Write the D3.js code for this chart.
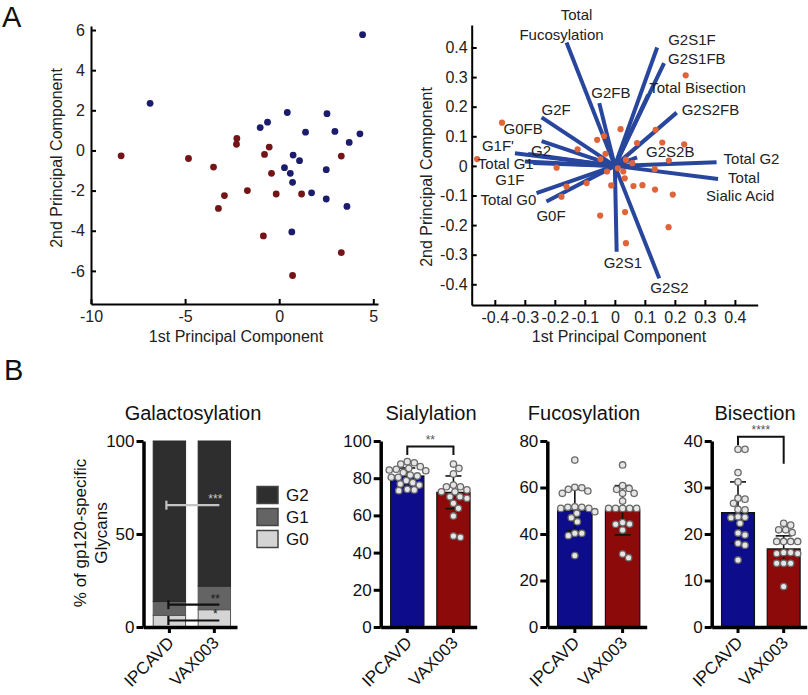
<!DOCTYPE html>
<html><head><meta charset="utf-8">
<script src="https://cdn.jsdelivr.net/npm/d3@7"></script>
<style>
body{margin:0;background:#fff;}
svg{font-family:Arial,"Liberation Sans",Helvetica,sans-serif;display:block;}
</style></head><body>
<svg id="c" width="808" height="695"></svg>
<script>
// ---------------- DATA ----------------
// Panel A left: PCA scores
const ipcavdPC1 = [4.43,-6.86,0.43,2.54,-0.62,-1.01,1.40,2.96,4.29,3.72,0.74,1.08,0.28,0.59,0.71,2.50,1.72,2.50,3.60,0.67];
const ipcavdPC2 = [5.77,2.35,1.89,1.83,1.41,1.14,0.91,0.95,0.83,0.40,-0.23,-0.51,-0.86,-1.14,-1.59,-0.96,-2.11,-2.42,-2.79,-4.06];
const vax003PC1 = [-8.40,-4.82,-3.49,-2.25,-2.27,-0.53,-0.78,-0.41,-1.69,-2.91,-3.23,-0.16,1.19,3.30,-0.84,3.30,0.71];
const vax003PC2 = [-0.27,-0.40,-0.83,0.60,0.31,0.17,-0.20,-1.14,-2.00,-2.25,-2.89,-2.17,-2.17,-0.28,-4.26,-5.09,-6.23];
const scatterXTicks = [-10,-5,0,5];
const scatterYTicks = [6,4,2,0,-2,-4,-6];

// Panel A right: biplot loadings and scores
const loadingNames = ["Total Fucosylation","G2S1F","G2S1FB","Total Bisection","G2FB","G2S2FB","G2F","G0FB","G1F'","G2","Total G1","G1F","Total G0","G0F","G2S2B","Total G2","Total Sialic Acid","G2S1","G2S2"];
const loadingX = [-0.161,0.141,0.164,0.111,-0.052,0.206,-0.244,-0.244,-0.333,-0.289,-0.300,-0.272,-0.261,-0.228,0.074,0.339,0.344,0.006,0.148];
const loadingY = [0.417,0.400,0.347,0.240,0.212,0.180,0.164,0.084,0.043,0.040,0.015,0.010,-0.092,-0.120,0.029,0.012,-0.044,-0.290,-0.380];
const scoreX = [0.236,-0.376,-0.459,0.019,0.136,-0.036,-0.059,0.074,0.158,0.231,-0.124,-0.031,-0.048,0.037,0.058,0.180,-0.194,0.010,0.028,-0.026,0.133,0.033,-0.161,-0.094,-0.012,0.062,0.092,0.134,0.193,-0.178,-0.049,0.034,0.179,0.037];
const scoreY = [0.306,0.146,0.023,0.124,0.122,0.101,0.088,0.077,0.079,0.073,0.056,0.041,0.023,0.021,0.009,0.018,-0.006,-0.008,-0.019,-0.019,-0.011,-0.042,-0.070,-0.058,-0.066,-0.068,-0.065,-0.080,-0.097,-0.104,-0.168,-0.156,-0.207,-0.261];
const biplotTicks = [-0.4,-0.3,-0.2,-0.1,0,0.1,0.2,0.3,0.4];

// Panel B
const groups = ["IPCAVD","VAX003"];
const galKeys = ["G0","G1","G2"];
const galG0 = [6.2, 9.3];
const galG1 = [7.5, 12.6];
const galG2 = [86.3, 78.1];
const galSigValues = [65.5, 12.0, 3.5];
const galSigLabels = ["***","**","*"];
const galTicks = [0,50,100];

const sialMean = [81.2, 72.4];
const sialSD = [4.3, 8.8];
const sialIPCAVD = [88.9,88.3,87.6,86.2,85.3,84.4,84.8,84.0,83.0,81.7,81.2,80.5,80.5,78.7,77.6,76.9,76.3,74.0,73.3,73.7];
const sialVAX003 = [87.6,85.3,82.3,75.4,76.3,75.4,73.7,72.7,72.7,70.0,70.0,69.2,66.5,63.8,59.7,48.9,48.2];
const sialTicks = [0,20,40,60,80,100];

const fucMean = [50.3, 50.2];
const fucSD = [8.9, 10.6];
const fucIPCAVD = [71.8,59.2,60.1,59.9,58.5,57.5,51.5,51.0,51.0,51.7,51.5,49.6,48.9,45.3,47.0,40.3,39.3,40.3,30.7];
const fucVAX003 = [69.7,60.8,59.6,59.2,57.5,57.5,54.2,51.0,51.0,51.0,51.0,51.0,44.9,44.2,44.3,41.7,29.8,31.4];
const fucTicks = [0,20,40,60,80];

const bisMean = [24.6, 16.8];
const bisSD = [6.6, 2.8];
const bisIPCAVD = [38.2,38.2,33.2,31.2,27.7,27.5,26.6,25.3,25.2,23.7,23.6,23.5,22.3,20.2,19.8,18.0,17.6,14.4];
const bisVAX003 = [21.9,22.3,20.3,20.9,20.9,18.4,18.4,18.4,18.4,15.8,16.0,16.0,15.8,13.7,13.7,13.7,8.7];
const bisTicks = [0,10,20,30,40];

// ---------------- STYLE / LAYOUT ----------------
const svg = d3.select("#c");
const textCol = "#222";
const blueDot = "#1c1c6c", redDot = "#741416";
const barBlue = "#0d0d8c", barRed = "#8c0a0a";
const galColors = {G2:"#2e2e2e", G1:"#646464", G0:"#d4d4d4"};

// label offsets for biplot vectors (px relative to vector tip)
const loadingLabelLayout = {
  "Total Fucosylation":[{t:"Total",dx:10,dy:-28,a:"middle"},{t:"Fucosylation",dx:-5,dy:-8,a:"middle"}],
  "G2S1F":[{t:"G2S1F",dx:11,dy:-8}],
  "G2S1FB":[{t:"G2S1FB",dx:4,dy:-4}],
  "Total Bisection":[{t:"Total Bisection",dx:1,dy:-7}],
  "G2FB":[{t:"G2FB",dx:-8,dy:-10}],
  "G2S2FB":[{t:"G2S2FB",dx:5,dy:-3}],
  "G2F":[{t:"G2F",dx:0,dy:-8}],
  "G0FB":[{t:"G0FB",dx:-38,dy:-12}],
  "G1F'":[{t:"G1F'",dx:-33,dy:-7}],
  "G2":[{t:"G2",dx:3,dy:-3}],
  "Total G1":[{t:"Total G1",dx:-47,dy:2}],
  "G1F":[{t:"G1F",dx:-38,dy:17}],
  "Total G0":[{t:"Total G0",dx:-56,dy:7}],
  "G0F":[{t:"G0F",dx:-10,dy:14}],
  "G2S2B":[{t:"G2S2B",dx:9,dy:-6}],
  "Total G2":[{t:"Total G2",dx:7,dy:-4}],
  "Total Sialic Acid":[{t:"Total",dx:10,dy:-1},{t:"Sialic Acid",dx:-12,dy:17}],
  "G2S1":[{t:"G2S1",dx:-13,dy:11}],
  "G2S2":[{t:"G2S2",dx:-9,dy:9}]
};

function styleAxis(g, w, col) {
  g.select(".domain").attr("stroke", col || "#000").attr("stroke-width", w);
  g.selectAll(".tick line").attr("stroke", col || "#000").attr("stroke-width", w);
  g.selectAll(".tick text").attr("font-size", 16).attr("fill", textCol).attr("font-family", "Arial,'Liberation Sans',sans-serif");
}

// Panel letters
svg.append("text").attr("x", 2).attr("y", 27).attr("font-size", 29).attr("fill", "#111").text("A");
svg.append("text").attr("x", 4).attr("y", 380).attr("font-size", 29).attr("fill", "#111").text("B");

// ---------------- Panel A left ----------------
(function(){
  const x = d3.scaleLinear().domain([-10, 5.25]).range([91, 378]);
  const y = d3.scaleLinear().domain([-7.65, 6.2]).range([304, 26]);
  const g = svg.append("g");
  const xa = g.append("g").attr("transform", "translate(0,304)")
    .call(d3.axisBottom(x).tickValues(scatterXTicks).tickSizeInner(-5).tickSizeOuter(0).tickPadding(7).tickFormat(d => String(d)));
  styleAxis(xa, 2);
  const ya = g.append("g").attr("transform", "translate(91,0)")
    .call(d3.axisLeft(y).tickValues(scatterYTicks).tickSizeInner(-5).tickSizeOuter(0).tickPadding(6).tickFormat(d => String(d)));
  styleAxis(ya, 2);
  g.selectAll("circle.b").data(d3.range(ipcavdPC1.length)).join("circle")
    .attr("cx", i => x(ipcavdPC1[i])).attr("cy", i => y(ipcavdPC2[i])).attr("r", 3.4).attr("fill", blueDot);
  g.selectAll("circle.r").data(d3.range(vax003PC1.length)).join("circle")
    .attr("cx", i => x(vax003PC1[i])).attr("cy", i => y(vax003PC2[i])).attr("r", 3.4).attr("fill", redDot);
  g.append("text").attr("x", 236).attr("y", 342).attr("text-anchor", "middle").attr("font-size", 16).attr("fill", textCol).text("1st Principal Component");
  g.append("text").attr("transform", "translate(62,158) rotate(-90)").attr("text-anchor", "middle").attr("font-size", 16).attr("fill", textCol).text("2nd Principal Component");
})();

// ---------------- Panel A right (biplot) ----------------
(function(){
  const x = d3.scaleLinear().domain([-0.477, 0.476]).range([471.7, 757.7]);
  const y = d3.scaleLinear().domain([-0.47, 0.476]).range([305, 25]);
  const g = svg.append("g");
  const fmt = d => d === 0 ? "0" : d.toFixed(1);
  const xa = g.append("g").attr("transform", "translate(0,305)")
    .call(d3.axisBottom(x).tickValues(biplotTicks).tickSizeInner(-5).tickSizeOuter(0).tickPadding(7).tickFormat(fmt));
  styleAxis(xa, 2);
  const ya = g.append("g").attr("transform", "translate(471.7,0)")
    .call(d3.axisLeft(y).tickValues(biplotTicks).tickSizeInner(-5).tickSizeOuter(0).tickPadding(4).tickFormat(fmt));
  styleAxis(ya, 2);
  g.selectAll("line.v").data(loadingNames).join("line")
    .attr("x1", x(0)).attr("y1", y(0))
    .attr("x2", (d,i) => x(loadingX[i])).attr("y2", (d,i) => y(loadingY[i]))
    .attr("stroke", "#28479c").attr("stroke-width", 4).attr("stroke-linecap", "butt");
  g.selectAll("circle.s").data(d3.range(scoreX.length)).join("circle")
    .attr("cx", i => x(scoreX[i])).attr("cy", i => y(scoreY[i])).attr("r", 3.1).attr("fill", "#e0643a");
  loadingNames.forEach((n, i) => {
    const px = x(loadingX[i]), py = y(loadingY[i]);
    (loadingLabelLayout[n] || []).forEach(l => {
      g.append("text").attr("x", px + l.dx).attr("y", py + l.dy).attr("dy", "0.35em")
        .attr("text-anchor", l.a || "start").attr("font-size", 15).attr("fill", textCol).text(l.t);
    });
  });
  g.append("text").attr("x", 619).attr("y", 342).attr("text-anchor", "middle").attr("font-size", 16).attr("fill", textCol).text("1st Principal Component");
  g.append("text").attr("transform", "translate(432,177) rotate(-90)").attr("text-anchor", "middle").attr("font-size", 16).attr("fill", textCol).text("2nd Principal Component");
})();

// ---------------- Panel B helpers ----------------
const Y0 = 627, Y1 = 441;
function barFrame(cfg) {
  const g = svg.append("g");
  const y = d3.scaleLinear().domain([0, cfg.max]).range([Y0, Y1]);
  const x = d3.scaleBand().domain(groups).range([cfg.x0, cfg.x1]).paddingInner(0.28).paddingOuter(0.18).align(0.6);
  return {g, x, y};
}
function drawAxes(f, cfg) {
  const ya = f.g.append("g").attr("transform", `translate(${cfg.x0},0)`)
    .call(d3.axisLeft(f.y).tickValues(cfg.ticks).tickSizeInner(7).tickSizeOuter(0).tickPadding(2).tickFormat(d => String(d)));
  ya.select(".domain").attr("stroke", "#000").attr("stroke-width", 3.5);
  ya.selectAll(".tick line").attr("stroke", "#000").attr("stroke-width", 3);
  ya.selectAll(".tick text").attr("font-size", 17).attr("fill", "#111");
  const xa = f.g.append("g").attr("transform", `translate(0,${Y0})`)
    .call(d3.axisBottom(f.x).tickSizeInner(6).tickSizeOuter(0));
  xa.select(".domain").attr("stroke", "#000").attr("stroke-width", 3.5);
  xa.selectAll(".tick line").attr("stroke", "#000").attr("stroke-width", 3);
  xa.selectAll(".tick text").attr("font-size", 17).attr("fill", "#111")
    .attr("text-anchor", "end").attr("transform", "rotate(-45)").attr("x", -8).attr("y", 10).attr("dy", "0.35em");
  f.g.append("text").attr("x", cfg.titleX).attr("y", 420).attr("text-anchor", "middle").attr("font-size", 20).attr("fill", "#111").text(cfg.title);
}
function beeswarm(vals, cx, y, r) {
  const placed = [];
  const order = vals.map((v,i)=>i).sort((a,b)=>vals[b]-vals[a]);
  const out = new Array(vals.length);
  const dmin = 2*r + 0.4;
  order.forEach(i => {
    const py = y(vals[i]);
    let best = 0;
    for (let k = 0; k < 200; k++) {
      const cand = [k*0.5, -k*0.5];
      let ok = null;
      for (const c of cand) {
        if (placed.every(p => (p[0]-(cx+c))**2 + (p[1]-py)**2 >= dmin*dmin)) { ok = c; break; }
      }
      if (ok !== null) { best = ok; break; }
    }
    placed.push([cx+best, py]);
    out[i] = [cx+best, py];
  });
  return out;
}
function dotBarPanel(cfg) {
  const f = barFrame(cfg);
  const cols = [barBlue, barRed];
  f.g.selectAll("rect.bar").data(groups).join("rect")
    .attr("x", d => f.x(d)).attr("width", f.x.bandwidth())
    .attr("y", (d,i) => f.y(cfg.mean[i])).attr("height", (d,i) => Y0 - f.y(cfg.mean[i]))
    .attr("fill", (d,i) => cols[i]).attr("stroke", "#111").attr("stroke-width", 1.2);
  groups.forEach((grp, i) => {
    const cx = f.x(grp) + f.x.bandwidth()/2;
    const top = f.y(cfg.mean[i] + cfg.sd[i]), bot = f.y(cfg.mean[i] - cfg.sd[i]);
    f.g.append("line").attr("x1", cx).attr("x2", cx).attr("y1", top).attr("y2", bot).attr("stroke", "#111").attr("stroke-width", 1.6);
    [top, bot].forEach(yy => f.g.append("line").attr("x1", cx-8).attr("x2", cx+8).attr("y1", yy).attr("y2", yy).attr("stroke", "#111").attr("stroke-width", 1.6));
    const pts = beeswarm(cfg.dots[i], cx, f.y, 3.2);
    f.g.selectAll(null).data(pts).join("circle")
      .attr("cx", p => p[0]).attr("cy", p => p[1]).attr("r", 3.2)
      .attr("fill", "#e6e6e6").attr("stroke", "#6a6a6a").attr("stroke-width", 1.3);
  });
  drawAxes(f, cfg);
  if (cfg.sig) {
    const c1 = f.x(groups[0]) + f.x.bandwidth()/2, c2 = f.x(groups[1]) + f.x.bandwidth()/2;
    const yb = f.y(cfg.sig.top);
    f.g.append("path").attr("d", `M${c1},${f.y(cfg.sig.left)}V${yb}H${c2}V${f.y(cfg.sig.right)}`)
      .attr("fill", "none").attr("stroke", "#111").attr("stroke-width", 2);
    f.g.append("text").attr("x", (c1+c2)/2).attr("y", yb - 3).attr("text-anchor", "middle")
      .attr("font-size", 12).attr("fill", "#555").text(cfg.sig.label);
  }
  return f;
}

// ---------------- Galactosylation ----------------
(function(){
  const cfg = {x0:143.5, x1:237, max:100, ticks:galTicks, title:"Galactosylation", titleX:193};
  const f = barFrame(cfg);
  const rows = groups.map((gname, i) => ({group:gname, G0:galG0[i], G1:galG1[i], G2:galG2[i]}));
  const stack = d3.stack().keys(galKeys)(rows);
  stack.forEach(layer => {
    f.g.selectAll(null).data(layer).join("rect")
      .attr("x", d => f.x(d.data.group)).attr("width", f.x.bandwidth())
      .attr("y", d => f.y(d[1])).attr("height", d => f.y(d[0]) - f.y(d[1]))
      .attr("fill", galColors[layer.key]).attr("stroke", layer.key === "G2" ? "#2a2a2a" : "#555").attr("stroke-width", 1);
  });
  const c1 = f.x(groups[0]) + f.x.bandwidth()/2, c2 = f.x(groups[1]) + f.x.bandwidth()/2;
  galSigValues.forEach((v, k) => {
    const yy = f.y(v);
    const col = k === 0 ? "#c4c4c4" : "#111";
    const xs = c1 - 3 + (k === 0 ? 0 : 2), xe = c2 + 5;
    f.g.append("line").attr("x1", xs).attr("x2", xe).attr("y1", yy).attr("y2", yy).attr("stroke", col).attr("stroke-width", 2.2);
    f.g.append("line").attr("x1", xs).attr("x2", xs).attr("y1", yy-4.5).attr("y2", yy+4.5).attr("stroke", col).attr("stroke-width", 2.2);
    f.g.append("text").attr("x", c2 + 1).attr("y", yy - 2).attr("text-anchor", "middle")
      .attr("font-size", 12).attr("fill", k === 0 ? "#c8c8c8" : "#1a1a1a").text(galSigLabels[k]);
  });
  drawAxes(f, cfg);
  // y title
  f.g.append("text").attr("transform", "translate(86,533) rotate(-90)").attr("text-anchor", "middle").attr("font-size", 17).attr("fill", "#111").text("% of gp120-specific");
  f.g.append("text").attr("transform", "translate(107,533) rotate(-90)").attr("text-anchor", "middle").attr("font-size", 17).attr("fill", "#111").text("Glycans");
  // legend
  const legendKeys = galKeys.slice().reverse();
  const lg = f.g.append("g");
  legendKeys.forEach((k, i) => {
    const ly = 495 + i * 22;
    lg.append("rect").attr("x", 257).attr("y", ly - 8.5).attr("width", 21).attr("height", 17)
      .attr("fill", galColors[k]).attr("stroke", "#444").attr("stroke-width", 1.5);
    lg.append("text").attr("x", 286).attr("y", ly).attr("dy", "0.35em").attr("font-size", 17).attr("fill", "#111").text(k);
  });
})();

// ---------------- Sialylation / Fucosylation / Bisection ----------------
dotBarPanel({x0:380.7, x1:476.7, max:100, ticks:sialTicks, title:"Sialylation", titleX:431,
  mean:sialMean, sd:sialSD, dots:[sialIPCAVD, sialVAX003], sig:{top:97, left:92.5, right:92.5, label:"**"}});
dotBarPanel({x0:547.3, x1:646.7, max:80, ticks:fucTicks, title:"Fucosylation", titleX:584,
  mean:fucMean, sd:fucSD, dots:[fucIPCAVD, fucVAX003]});
dotBarPanel({x0:711.7, x1:806.7, max:40, ticks:bisTicks, title:"Bisection", titleX:755,
  mean:bisMean, sd:bisSD, dots:[bisIPCAVD, bisVAX003], sig:{top:40.9, left:39.1, right:35.1, label:"****"}});
</script>
</body></html>
